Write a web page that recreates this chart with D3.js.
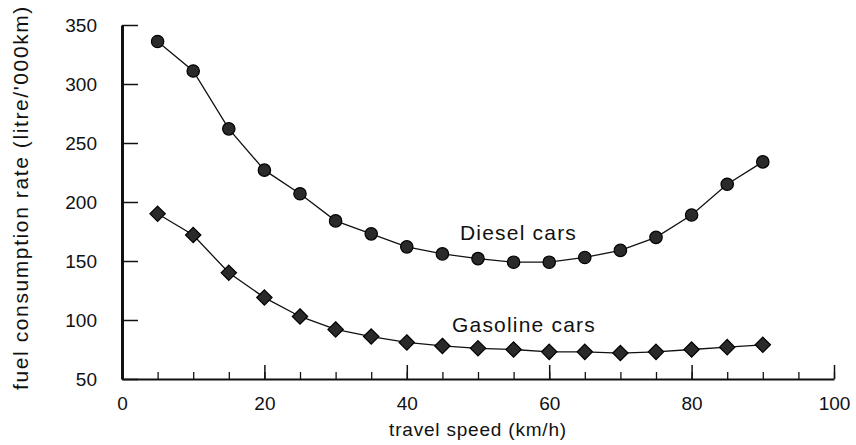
<!DOCTYPE html>
<html>
<head>
<meta charset="utf-8">
<script src="https://cdn.jsdelivr.net/npm/d3@7"></script>
<style>
  html, body { margin: 0; padding: 0; background: #fff; }
  svg { display: block; }
  text { font-family: "Liberation Sans", Arial, Helvetica, sans-serif; fill: #111; }
</style>
</head>
<body>
<svg id="chart" width="856" height="445"></svg>
<script>
// Travel speed (km/h) at which consumption was measured
const speeds = [5, 10, 15, 20, 25, 30, 35, 40, 45, 50, 55, 60, 65, 70, 75, 80, 85, 90];
// Fuel consumption rate, litre per '000 km
const dieselValues = [336, 311, 262, 227, 207, 184, 173, 162, 156, 152, 149, 149, 153, 159, 170, 189, 215, 234];
const gasolineValues = [190, 172, 140, 119, 103, 92, 86, 81, 78, 76, 75, 73, 73, 72, 73, 75, 77, 79];
// Axis ticks
const xTickLabels = [0, 20, 40, 60, 80, 100];
const xMinorTicks = d3.range(0, 101, 5);
const yTickLabels = [50, 100, 150, 200, 250, 300, 350];

const svg = d3.select("#chart");

const x = d3.scaleLinear().domain([0, 100]).range([122, 834]);
const y = d3.scaleLinear().domain([50, 350]).range([379, 25]);

// Axes: ticks point into the plot area
const xAxisMinor = d3.axisBottom(x).tickValues(xMinorTicks).tickSize(-7).tickFormat("");
const xAxisMajor = d3.axisBottom(x).tickValues(xTickLabels).tickSizeInner(-14).tickSizeOuter(0).tickPadding(18);
const yAxis = d3.axisLeft(y).tickValues(yTickLabels).tickSizeInner(-16).tickSizeOuter(0).tickPadding(25);

const gxMinor = svg.append("g").attr("transform", `translate(0,${y(50)})`).call(xAxisMinor);
gxMinor.select(".domain").remove();
gxMinor.selectAll("line").attr("stroke", "#111").attr("stroke-width", 1.3);

const gx = svg.append("g").attr("transform", `translate(0,${y(50)})`).call(xAxisMajor);
gx.select(".domain").attr("stroke", "#111").attr("stroke-width", 2.2);
gx.selectAll("line").attr("stroke", "#111").attr("stroke-width", 1.5);
gx.selectAll("text")
  .style("font-size", "19px")
  .attr("fill", "#111");

const gy = svg.append("g").attr("transform", `translate(${x(0)},0)`).call(yAxis);
gy.select(".domain").attr("stroke", "#111").attr("stroke-width", 3);
gy.selectAll("line").attr("stroke", "#111").attr("stroke-width", 1.5);
gy.selectAll("text")
  .style("font-size", "19px")
  .attr("fill", "#111");

// Axis titles
svg.append("text")
  .attr("x", (x(0) + x(100)) / 2)
  .attr("y", 436)
  .attr("text-anchor", "middle")
  .style("font-size", "19px")
  .style("letter-spacing", "0.8px")
  .text("travel speed (km/h)");

svg.append("text")
  .attr("transform", `translate(28,${(7 + 388) / 2}) rotate(-90)`)
  .attr("text-anchor", "middle")
  .style("font-size", "21px")
  .style("letter-spacing", "1.6px")
  .text("fuel consumption rate (litre/'000km)");

// Series
const line = d3.line().x(d => x(d[0])).y(d => y(d[1]));
const dieselPts = speeds.map((s, i) => [s, dieselValues[i]]);
const gasolinePts = speeds.map((s, i) => [s, gasolineValues[i]]);

svg.append("path").datum(dieselPts).attr("d", line)
  .attr("fill", "none").attr("stroke", "#111").attr("stroke-width", 1.3);
svg.append("path").datum(gasolinePts).attr("d", line)
  .attr("fill", "none").attr("stroke", "#111").attr("stroke-width", 1.3);

svg.append("g").selectAll("circle").data(dieselPts).join("circle")
  .attr("cx", d => x(d[0])).attr("cy", d => y(d[1])).attr("r", 6.2)
  .attr("fill", "#2a2a2a").attr("stroke", "#000").attr("stroke-width", 1.2);

const diamond = d3.symbol().type(d3.symbolDiamond2).size(150);
svg.append("g").selectAll("path").data(gasolinePts).join("path")
  .attr("d", diamond)
  .attr("transform", d => `translate(${x(d[0])},${y(d[1])})`)
  .attr("fill", "#2a2a2a").attr("stroke", "#000").attr("stroke-width", 1.2);

// Series labels
svg.append("text").attr("x", 460).attr("y", 240)
  .style("font-size", "21px").style("letter-spacing", "1.2px")
  .text("Diesel cars");
svg.append("text").attr("x", 452).attr("y", 332)
  .style("font-size", "21px").style("letter-spacing", "1.2px")
  .text("Gasoline cars");
</script>
</body>
</html>
